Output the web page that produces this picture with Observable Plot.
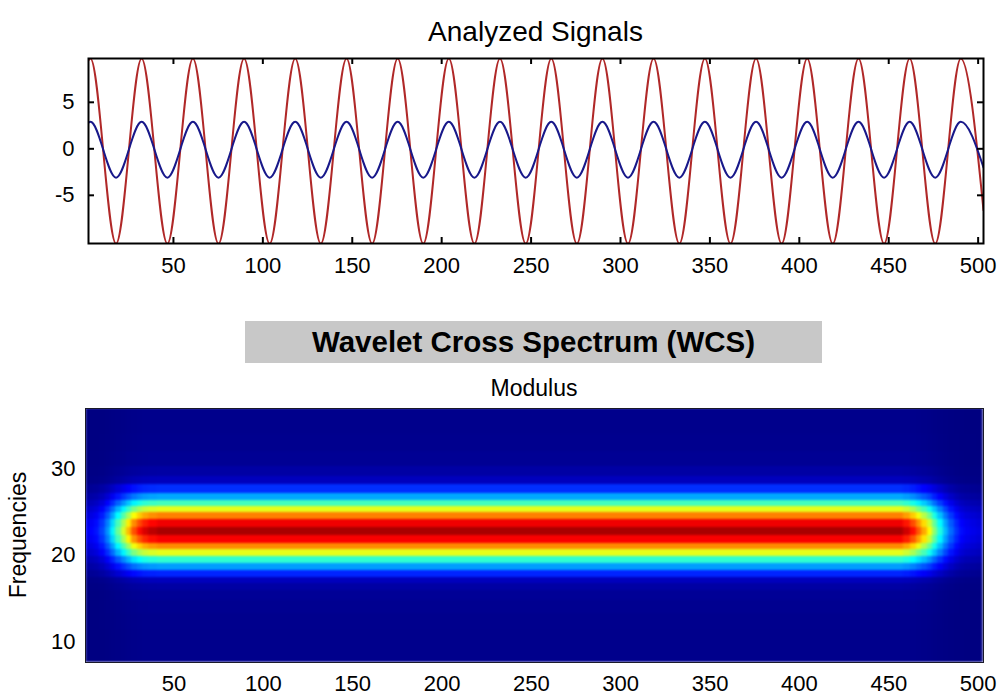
<!DOCTYPE html>
<html>
<head>
<meta charset="utf-8">
<script src="https://cdn.jsdelivr.net/npm/d3@7"></script>
<script src="https://cdn.jsdelivr.net/npm/@observablehq/plot@0.6"></script>
<style>
  html, body { margin: 0; padding: 0; background: #fff; }
  #root { position: relative; width: 999px; height: 697px; overflow: hidden;
          font-family: "Liberation Sans", Arial, Helvetica, sans-serif; color: #000; }
  .abs { position: absolute; }
  #t1 { left: 88px; width: 895px; top: 16px; text-align: center; font-size: 28px; line-height: 32px; }
  #bar { left: 245px; top: 321px; width: 577px; height: 42px; background: #c8c8c8;
         display: flex; align-items: center; justify-content: center;
         font-weight: bold; font-size: 29.5px; }
  #sub { left: 85px; width: 898px; top: 375px; text-align: center; font-size: 23px; line-height: 26px; }
  #ylab { left: 18px; top: 535px; transform: translate(-50%, -50%) rotate(-90deg);
          font-size: 23px; white-space: nowrap; }
  #p1 { left: 0; top: 0; }
  #p2 { left: 0; top: 300px; }
</style>
</head>
<body>
<div id="root">
  <div id="p1" class="abs"></div>
  <div id="p2" class="abs"></div>
  <div id="t1" class="abs">Analyzed Signals</div>
  <div id="bar" class="abs">Wavelet Cross Spectrum (WCS)</div>
  <div id="sub" class="abs">Modulus</div>
  <div id="ylab" class="abs">Frequencies</div>
</div>
<script>
// ---------- Analyzed signals (peaks / troughs) ----------
const sigTime = [2.5, 3.6, 17.9, 32.2, 46.6, 60.9, 75.2, 89.5, 103.8, 118.1, 132.4, 146.8, 161.1,
  175.4, 189.7, 204.0, 218.3, 232.6, 247.0, 261.3, 275.6, 289.9, 304.2, 318.5, 332.9, 347.2,
  361.5, 375.8, 390.1, 404.4, 418.7, 433.1, 447.4, 461.7, 476.0, 490.3, 503];
const redSignal = [9.5, 9.7, -10.2, 9.7, -10.2, 9.7, -10.2, 9.7, -10.2, 9.7, -10.2, 9.7, -10.2,
  9.7, -10.2, 9.7, -10.2, 9.7, -10.2, 9.7, -10.2, 9.7, -10.2, 9.7, -10.2, 9.7,
  -10.2, 9.7, -10.2, 9.7, -10.2, 9.7, -10.2, 9.7, -10.2, 9.7, -6.6];
const blueSignal = [2.8, 2.9, -3.1, 2.9, -3.1, 2.9, -3.1, 2.9, -3.1, 2.9, -3.1, 2.9, -3.1,
  2.9, -3.1, 2.9, -3.1, 2.9, -3.1, 2.9, -3.1, 2.9, -3.1, 2.9, -3.1, 2.9,
  -3.1, 2.9, -3.1, 2.9, -3.1, 2.9, -3.1, 2.9, -3.1, 2.9, -2.0];
const topXTicks = [50, 100, 150, 200, 250, 300, 350, 400, 450, 500];
const topYTicks = [-5, 0, 5];

// ---------- Wavelet cross spectrum modulus (jet index 0..1) ----------
const freqRows = [8.5, 10.5, 12.5, 14.2, 15.5, 16.4, 17.1, 17.9, 18.65, 19.42, 20.26, 21.0, 21.8,
  22.69, 23.7, 24.55, 25.27, 25.96, 26.7, 27.7, 28.6, 29.6, 31, 33, 35, 36.5];
const freqProfile = [0.012, 0.012, 0.013, 0.016, 0.022, 0.035, 0.06, 0.16, 0.28, 0.42, 0.6, 0.74, 0.88,
  0.96, 0.89, 0.75, 0.6, 0.44, 0.29, 0.17, 0.06, 0.035, 0.02, 0.014, 0.012, 0.012];
const envTime = [1, 4, 7, 10, 13, 16, 19, 22, 25, 28, 31, 34, 38, 44,
  456, 460, 464, 467, 470, 473, 476, 479, 482, 485, 488, 491, 494, 497, 501];
const envValue = [0.12, 0.13, 0.15, 0.2, 0.28, 0.38, 0.5, 0.61, 0.72, 0.83, 0.9, 0.95, 0.98, 1.0,
  1.0, 0.96, 0.9, 0.82, 0.74, 0.65, 0.53, 0.42, 0.32, 0.24, 0.18, 0.14, 0.12, 0.11, 0.1];
const heatXTicks = [50, 100, 150, 200, 250, 300, 350, 400, 450, 500];
const heatYTicks = [10, 20, 30];

const jetStops = [0, 0.125, 0.375, 0.625, 0.875, 1];
const jetColors = ["#000080", "#0000ff", "#00ffff", "#ffff00", "#ff0000", "#800000"];

const fontStyle = {fontFamily: "'Liberation Sans', Arial, Helvetica, sans-serif", fontSize: "22px",
  color: "black", background: "white", overflow: "visible"};

// ---------- top chart ----------
const sig = sigTime.map((t, i) => ({t, red: redSignal[i], blue: blueSignal[i]}));
const topXDomain = [2.5, 503], topYDomain = [-10.18, 9.71];
const signalChart = Plot.plot({
  width: 999, height: 285,
  marginTop: 58, marginBottom: 42, marginLeft: 88, marginRight: 16,
  style: fontStyle,
  x: {domain: topXDomain}, y: {domain: topYDomain},
  marks: [
    Plot.line(sig, {x: "t", y: "red", stroke: "#b02828", strokeWidth: 2, curve: "monotone-x", clip: true}),
    Plot.line(sig, {x: "t", y: "blue", stroke: "#18188a", strokeWidth: 2, curve: "monotone-x", clip: true}),
    Plot.tickX(topXTicks, {x: d => d, insetBottom: 179, stroke: "black", strokeWidth: 2}),
    Plot.tickX(topXTicks, {x: d => d, insetTop: 179, stroke: "black", strokeWidth: 2}),
    Plot.tickY(topYTicks, {y: d => d, insetRight: 889, stroke: "black", strokeWidth: 2}),
    Plot.tickY(topYTicks, {y: d => d, insetLeft: 889, stroke: "black", strokeWidth: 2}),
    Plot.frame({stroke: "black", strokeWidth: 2}),
    Plot.axisX(topXTicks, {anchor: "bottom", tickSize: 0, tickPadding: 14, label: null}),
    Plot.axisY(topYTicks, {anchor: "left", tickSize: 0, tickPadding: 14, label: null, tickFormat: d => String(d)})
  ]
});
document.getElementById("p1").appendChild(signalChart);

// ---------- heatmap ----------
const heatXDomain = [0.5, 503], heatYDomain = [7.65, 36.95];
const xEdges = envTime.map((t, i) => i === 0 ? heatXDomain[0] : (envTime[i - 1] + t) / 2).concat([heatXDomain[1]]);
const yEdges = freqRows.map((f, j) => j === 0 ? heatYDomain[0] : (freqRows[j - 1] + f) / 2).concat([heatYDomain[1]]);
const cells = [];
envTime.forEach((t, i) => {
  freqRows.forEach((f, j) => {
    cells.push({x1: xEdges[i], x2: xEdges[i + 1], y1: yEdges[j], y2: yEdges[j + 1], v: envValue[i] * freqProfile[j]});
  });
});
const heatChart = Plot.plot({
  width: 999, height: 397,
  marginTop: 108, marginBottom: 35, marginLeft: 85, marginRight: 16,
  style: fontStyle,
  x: {domain: heatXDomain}, y: {domain: heatYDomain},
  color: {type: "linear", domain: jetStops, range: jetColors, interpolate: "rgb", clamp: true},
  marks: [
    Plot.rect(cells, {x1: "x1", x2: "x2", y1: "y1", y2: "y2", fill: "v", shapeRendering: "crispEdges"}),
    Plot.frame({stroke: "#1a1a2a", strokeWidth: 1}),
    Plot.axisX(heatXTicks, {anchor: "bottom", tickSize: 0, tickPadding: 13, label: null}),
    Plot.axisY(heatYTicks, {anchor: "left", tickSize: 0, tickPadding: 10, label: null})
  ]
});
document.getElementById("p2").appendChild(heatChart);

// soften the cell grid a little, like the smoothed image in the reference
const rectG = heatChart.querySelector('g[aria-label="rect"]');
if (rectG) {
  const ns = "http://www.w3.org/2000/svg";
  const defs = document.createElementNS(ns, "defs");
  defs.innerHTML = '<filter id="soft" x="0" y="0" width="1" height="1" color-interpolation-filters="sRGB">' +
    '<feGaussianBlur stdDeviation="1.8 0.9" edgeMode="duplicate"/></filter>';
  heatChart.insertBefore(defs, heatChart.firstChild);
  rectG.setAttribute("filter", "url(#soft)");
}
</script>
</body>
</html>
